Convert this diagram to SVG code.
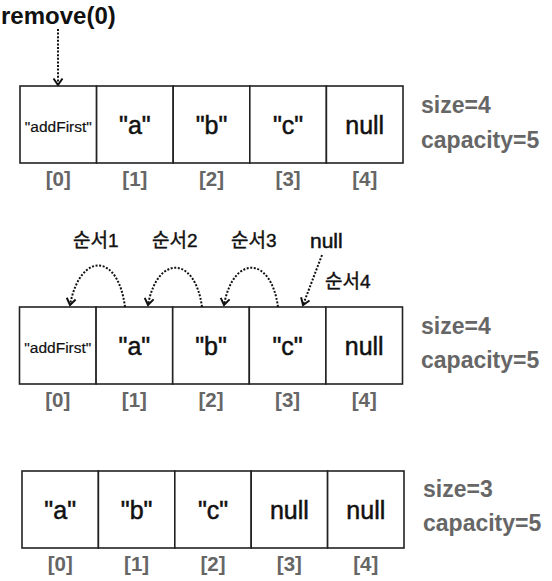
<svg xmlns="http://www.w3.org/2000/svg" width="552" height="581" viewBox="0 0 552 581">
<style>
.cell{fill:#fff;stroke:#222;stroke-width:1.6}
.v{font-family:"Liberation Sans",Arial,sans-serif;font-size:25px;fill:#111;stroke:#111;stroke-width:0.5;text-anchor:middle}
.s{font-family:"Liberation Sans",Arial,sans-serif;font-size:15.5px;fill:#111;stroke:#111;stroke-width:0.2;text-anchor:middle}
.idx{font-family:"Liberation Sans",Arial,sans-serif;font-weight:bold;font-size:20.5px;fill:#666;text-anchor:middle}
.info{font-family:"Liberation Sans",Arial,sans-serif;font-weight:bold;font-size:23px;fill:#666}
.kr{font-family:"Liberation Sans","Noto Sans CJK KR",sans-serif;font-size:19px;fill:#111;stroke:#111;stroke-width:0.4}
.nl{font-family:"Liberation Sans",Arial,sans-serif;font-size:21px;fill:#111;stroke:#111;stroke-width:0.5}
.title{font-family:"Liberation Sans",Arial,sans-serif;font-weight:bold;font-size:24px;fill:#111}
.dot{fill:none;stroke:#111;stroke-width:2;stroke-dasharray:2 1.6;marker-end:url(#ah)}
</style>
<defs>
<marker id="ah" markerUnits="userSpaceOnUse" markerWidth="14" markerHeight="14" viewBox="-8 -7 10 14" refX="0" refY="0" orient="auto">
<path d="M-6.5,-4.5 L0,0 L-6.5,4.5" fill="none" stroke="#111" stroke-width="2"/>
</marker>
</defs>

<text class="title" x="1" y="24">remove(0)</text>

<g id="row1">
<rect class="cell" x="20" y="86" width="76.6" height="77"/>
<rect class="cell" x="96.6" y="86" width="76.6" height="77"/>
<rect class="cell" x="173.2" y="86" width="76.6" height="77"/>
<rect class="cell" x="249.8" y="86" width="76.6" height="77"/>
<rect class="cell" x="326.4" y="86" width="76.6" height="77"/>
<text class="s" x="58.3" y="132">"addFirst"</text>
<text class="v" x="134.9" y="134">"a"</text>
<text class="v" x="211.5" y="134">"b"</text>
<text class="v" x="288.1" y="134">"c"</text>
<text class="v" x="364.7" y="134">null</text>
<text class="idx" x="58.3" y="186">[0]</text>
<text class="idx" x="134.9" y="186">[1]</text>
<text class="idx" x="211.5" y="186">[2]</text>
<text class="idx" x="288.1" y="186">[3]</text>
<text class="idx" x="364.7" y="186">[4]</text>
<text class="info" x="421" y="113">size=4</text>
<text class="info" x="421" y="148">capacity=5</text>
</g>

<g id="row2">
<rect class="cell" x="19.5" y="307" width="76.6" height="77"/>
<rect class="cell" x="96.1" y="307" width="76.6" height="77"/>
<rect class="cell" x="172.7" y="307" width="76.6" height="77"/>
<rect class="cell" x="249.3" y="307" width="76.6" height="77"/>
<rect class="cell" x="325.9" y="307" width="76.6" height="77"/>
<text class="s" x="57.8" y="353">"addFirst"</text>
<text class="v" x="134.4" y="355">"a"</text>
<text class="v" x="211" y="355">"b"</text>
<text class="v" x="287.6" y="355">"c"</text>
<text class="v" x="364.2" y="355">null</text>
<text class="idx" x="57.8" y="407">[0]</text>
<text class="idx" x="134.4" y="407">[1]</text>
<text class="idx" x="211" y="407">[2]</text>
<text class="idx" x="287.6" y="407">[3]</text>
<text class="idx" x="364.2" y="407">[4]</text>
<text class="info" x="421" y="334">size=4</text>
<text class="info" x="421" y="368">capacity=5</text>
<text class="kr" x="73" y="247">순서1</text>
<text class="kr" x="152" y="247">순서2</text>
<text class="kr" x="231" y="247">순서3</text>
<text class="nl" x="310" y="248">null</text>
<text class="kr" x="325" y="288">순서4</text>
</g>

<g id="row3">
<rect class="cell" x="22" y="471" width="76.4" height="77"/>
<rect class="cell" x="98.4" y="471" width="76.4" height="77"/>
<rect class="cell" x="174.8" y="471" width="76.4" height="77"/>
<rect class="cell" x="251.2" y="471" width="76.4" height="77"/>
<rect class="cell" x="327.6" y="471" width="76.4" height="77"/>
<text class="v" x="60.2" y="519">"a"</text>
<text class="v" x="136.6" y="519">"b"</text>
<text class="v" x="213" y="519">"c"</text>
<text class="v" x="289.4" y="519">null</text>
<text class="v" x="365.8" y="519">null</text>
<text class="idx" x="60.2" y="571">[0]</text>
<text class="idx" x="136.6" y="571">[1]</text>
<text class="idx" x="213" y="571">[2]</text>
<text class="idx" x="289.4" y="571">[3]</text>
<text class="idx" x="365.8" y="571">[4]</text>
<text class="info" x="423" y="497">size=3</text>
<text class="info" x="423" y="531">capacity=5</text>
</g>

<g id="connectors">
<path class="dot" d="M125,307 C118,252 80,252 70,305"/>
<path class="dot" d="M202,307 C195,255 157,255 148,305"/>
<path class="dot" d="M278,307 C271,255 233,255 224,305"/>
<path class="dot" d="M322,255 L303,305"/>
<path class="dot" d="M58,29 L58,85"/>
</g>
</svg>
